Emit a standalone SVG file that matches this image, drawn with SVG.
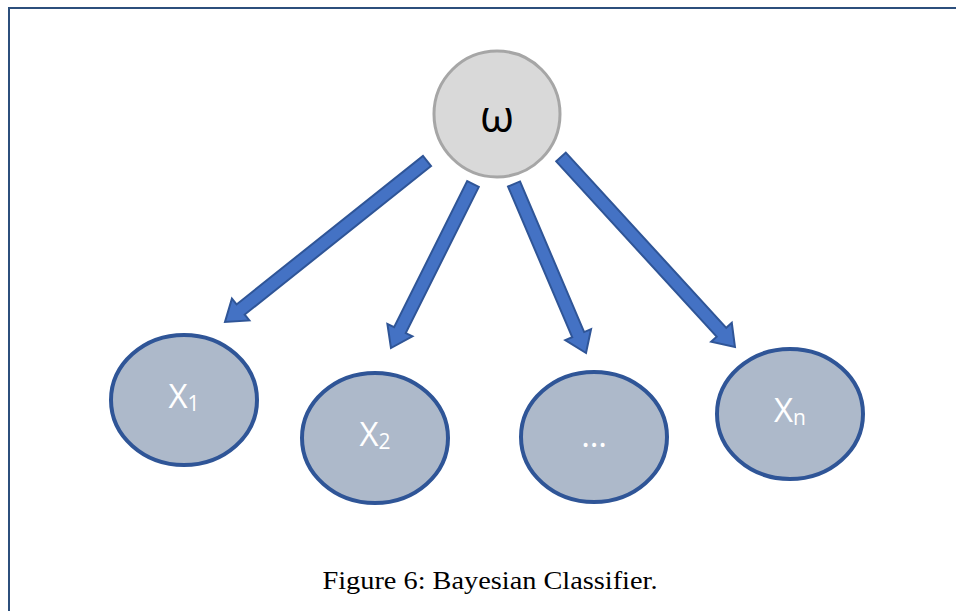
<svg xmlns="http://www.w3.org/2000/svg" width="956" height="611" viewBox="0 0 956 611">
<style>
.frame{stroke:#2c4f7c;stroke-width:2;fill:none}
.arrow{fill:#4472c4;stroke:#2f5597;stroke-width:2;stroke-linejoin:miter}
.var{fill:#adb9ca;stroke:#2f5597;stroke-width:4}
.lbl{font-family:"Open Sans","Liberation Sans",sans-serif;font-size:33px;fill:#ffffff;text-anchor:middle}
.sub{font-size:21px}
</style>
<rect width="956" height="611" fill="#ffffff"/>
<path class="frame" d="M9 611 V8 H956"/>
<g id="connectors">
<polygon class="arrow" transform="translate(427,161) rotate(141.45)" points="0,-6.5 238.3,-6.5 238.3,-14 258.3,0 238.3,14 238.3,6.5 0,6.5"/>
<polygon class="arrow" transform="translate(473,184) rotate(116.57)" points="0,-6.5 163.4,-6.5 163.4,-14 183.4,0 163.4,14 163.4,6.5 0,6.5"/>
<polygon class="arrow" transform="translate(514,184) rotate(66.92)" points="0,-6.5 163.7,-6.5 163.7,-14 183.7,0 163.7,14 163.7,6.5 0,6.5"/>
<polygon class="arrow" transform="translate(561,157) rotate(47.52)" points="0,-6.5 237.6,-6.5 237.6,-14 257.6,0 237.6,14 237.6,6.5 0,6.5"/>
</g>
<g id="omega">
<circle cx="497" cy="114" r="63" fill="#d9d9d9" stroke="#a6a6a6" stroke-width="3"/>
<text x="497" y="132" font-family="'Open Sans','DejaVu Sans',sans-serif" font-size="44" fill="#000000" text-anchor="middle">ω</text>
</g>
<g id="x1">
<ellipse class="var" cx="184" cy="400" rx="73" ry="65"/>
<text class="lbl" x="184" y="408">X<tspan class="sub" dy="3">1</tspan></text>
</g>
<g id="x2">
<ellipse class="var" cx="375" cy="438" rx="73" ry="65"/>
<text class="lbl" x="375" y="446">X<tspan class="sub" dy="3">2</tspan></text>
</g>
<g id="xdots">
<ellipse class="var" cx="594" cy="437" rx="73" ry="65"/>
<text class="lbl" x="594" y="447">…</text>
</g>
<g id="xn">
<ellipse class="var" cx="790" cy="414" rx="73" ry="65"/>
<text class="lbl" x="790" y="422">X<tspan class="sub" dy="3">n</tspan></text>
</g>
<text x="490" y="589" font-family="'Liberation Serif','Times New Roman',serif" font-size="25" fill="#000000" text-anchor="middle" textLength="335" lengthAdjust="spacingAndGlyphs">Figure 6: Bayesian Classifier.</text>
</svg>
